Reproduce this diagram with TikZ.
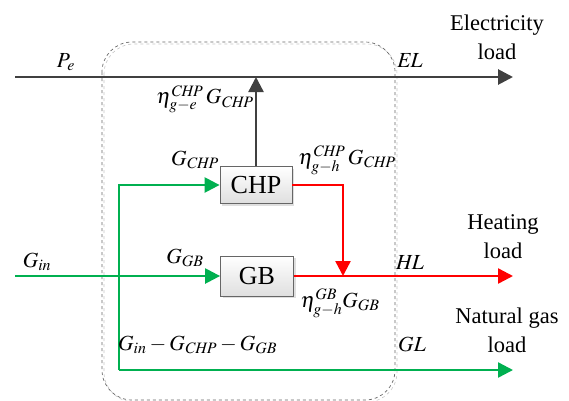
\documentclass[tikz,border=0pt]{standalone}
\usepackage{mathptmx}
\usepackage{fontspec}
\setmainfont{Liberation Serif}
\usetikzlibrary{arrows.meta,shadows}
\definecolor{egray}{HTML}{404040}
\definecolor{ggreen}{HTML}{00B050}
\definecolor{hred}{HTML}{FF0000}
\tikzset{
  flow/.style={line width=2.4pt,-{Triangle[length=15pt,width=15pt]}},
  devbox/.style={draw=gray!80!black,line width=0.8pt,minimum width=72pt,minimum height=37pt,
    top color=white,bottom color=gray!25,drop shadow={shadow xshift=2pt,shadow yshift=-2pt,fill=gray!50},
    font=\fontsize{26}{28}\selectfont,inner sep=0pt},
  lbl/.style={font=\fontsize{21.5}{24}\selectfont,inner sep=0pt},
  ttl/.style={font=\fontsize{22.5}{29}\selectfont,align=center,inner sep=0pt}
}
\begin{document}
\begin{tikzpicture}[x=1pt,y=-1pt]
\useasboundingbox (0,0) rectangle (569,400);
% dashed boundary
\draw[gray!45,dashed,line width=0.6pt,rounded corners=30pt] (104,44) rectangle (397,402);
\draw[egray!80,dashed,line width=0.7pt,rounded corners=30pt] (102,42) rectangle (395,400);
% nodes
\node[devbox] (chp) at (256,185) {CHP};
\node[devbox,minimum width=73pt,minimum height=40pt] (gb) at (257,276) {GB};
\coordinate (pe) at (15,77);
\coordinate (elend) at (513,77);
\coordinate (j1) at (256,77);
\coordinate (gin) at (15,276);
\coordinate (gs) at (119,370);
\coordinate (glend) at (513,370);
\coordinate (rt) at (343,276);
\coordinate (hlend) at (513,276);
% electricity
\draw[egray,flow,line width=2.8pt] (pe) -- (elend);
\draw[egray,flow] (chp.north) -- (j1);
% gas
\draw[ggreen,flow] (gs) |- (chp.west);
\draw[ggreen,flow] (gs) -- (glend);
\draw[ggreen,flow] (gin) -- (gb.west);
% heat
\draw[hred,flow] (chp.east) -| (rt);
\draw[hred,flow] (gb.east) -- (hlend);
% labels
\node[lbl] (lpe) at (66,62) {$P_e$};
\node[lbl] (lel) at (410,60) {$\mathit{EL}$};
\node[ttl] (tel) at (497,37) {Electricity\\load};
\node[lbl] (leta1) at (205,99) {$\eta_{g-e}^{\mathit{CHP}}\,G_{\mathit{CHP}}$};
\node[lbl] (lgchp) at (195,160) {$G_{\mathit{CHP}}$};
\node[lbl] (leta2) at (347,160) {$\eta_{g-h}^{\mathit{CHP}}\,G_{\mathit{CHP}}$};
\node[lbl] (lgin) at (37,262) {$G_{in}$};
\node[lbl] (lggb) at (185,258) {$G_{\mathit{GB}}$};
\node[lbl] (lhl) at (410,262) {$\mathit{HL}$};
\node[ttl] (thl) at (503,237) {Heating\\load};
\node[lbl] (leta3) at (340,303) {$\eta_{g-h}^{\mathit{GB}}G_{\mathit{GB}}$};
\node[ttl] (tgl) at (507,330) {Natural gas\\load};
\node[lbl] (lgl) at (412,344) {$\mathit{GL}$};
\node[lbl,anchor=west] (lrest) at (118,345) {$G_{in}-G_{\mathit{CHP}}-G_{\mathit{GB}}$};
\end{tikzpicture}
\end{document}
